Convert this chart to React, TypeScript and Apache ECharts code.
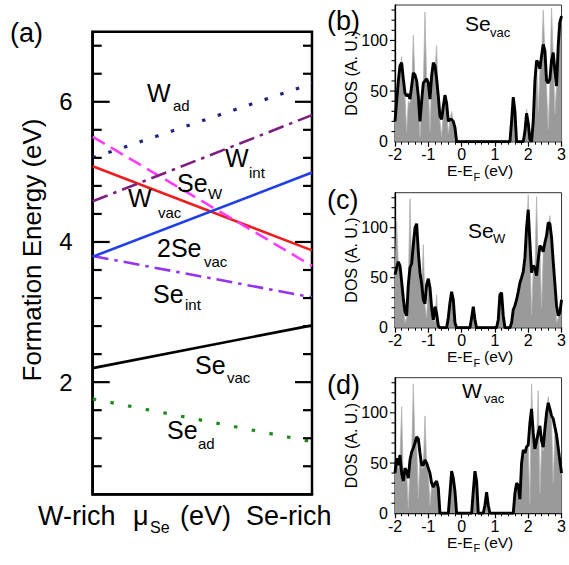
import React, { useEffect, useRef } from 'react';
import * as echarts from 'echarts';

const FONT = 'Liberation Sans, Arial, Helvetica, sans-serif';

// ---------- Panel (a): formation energy vs chemical potential ----------
const MU = [0, 1]; // W-rich -> Se-rich
const W_AD = [5.2, 6.26];
const W_INT = [4.58, 5.81];
const SE_W = [5.5, 3.66];
const W_VAC = [5.08, 3.88];
const SE2_VAC = [3.79, 4.99];
const SE_INT = [3.8, 3.21];
const SE_VAC = [2.2, 2.81];
const SE_AD = [1.76, 1.15];
const MAJOR_TICKS = [2, 4, 6];
const MINOR_TICKS = [0.8, 1.2, 1.6, 2.4, 2.8, 3.2, 3.6, 4.4, 4.8, 5.2, 5.6, 6.4, 6.8];
const DOS_TICKS = [10, 20, 30, 40, 50, 60, 70, 80, 90, 100, 110, 120, 130];
const DOS_LABELS = [0, 50, 100];

// ---------- DOS panels (E - EF from -2 to 3 eV, 0.05 eV grid) ----------
const ENERGY = Array.from({ length: 101 }, (_, i) => +(-2 + i * 0.05).toFixed(2));

const SEVAC_RAW = [
  18, 35, 55, 70, 84, 55, 45, 10, 40, 38,
  50, 105, 60, 55, 40, 5, 35, 55, 128, 60,
  55, 10, 60, 75, 70, 95, 40, 20, 5, 30,
  44, 30, 8, 20, 30, 18, 10, 0, 0, 0,
  0, 0, 0, 0, 0, 0, 0, 0, 0, 0,
  0, 0, 0, 0, 0, 0, 0, 0, 0, 0,
  0, 0, 0, 0, 0, 0, 0, 0, 0, 0,
  15, 40, 25, 0, 0, 0, 0, 0, 8, 32,
  15, 0, 0, 15, 55, 78, 30, 70, 82, 130,
  88, 55, 12, 60, 132, 85, 28, 55, 118, 110,
  120,
];
const SEVAC_SMOOTH = [
  20, 40, 60, 75, 78, 62, 48, 45, 47, 42,
  55, 68, 66, 60, 45, 20, 40, 58, 60, 62,
  58, 42, 65, 78, 75, 62, 45, 25, 22, 35,
  46, 38, 20, 22, 22, 20, 14, 0, 0, 0,
  0, 0, 0, 0, 0, 0, 0, 0, 0, 0,
  0, 0, 0, 0, 0, 0, 0, 0, 0, 0,
  0, 0, 0, 0, 0, 0, 0, 0, 0, 0,
  20, 44, 30, 0, 0, 0, 0, 0, 10, 28,
  18, 2, 0, 20, 60, 80, 78, 72, 85, 96,
  90, 60, 58, 62, 80, 88, 70, 55, 95, 118,
  124,
];
const SEW_RAW = [
  50, 106, 62, 58, 42, 25, 5, 10, 40, 129,
  60, 78, 95, 98, 65, 48, 40, 83, 22, 10,
  45, 35, 15, 10, 5, 33, 0, 0, 0, 0,
  0, 0, 8, 20, 33, 25, 3, 0, 0, 0,
  0, 0, 0, 0, 0, 0, 8, 19, 6, 0,
  0, 0, 0, 0, 0, 0, 0, 0, 0, 0,
  0, 0, 6, 28, 34, 10, 0, 0, 0, 0,
  4, 15, 20, 26, 33, 42, 48, 53, 66, 95,
  133, 80, 13, 58, 57, 131, 62, 78, 20, 76,
  80, 88, 100, 112, 86, 62, 40, 5, 10, 12,
  25,
];
const SEW_SMOOTH = [
  53, 60, 66, 62, 46, 29, 16, 12, 43, 60,
  64, 83, 100, 104, 76, 55, 44, 28, 24, 43,
  49, 40, 20, 8, 21, 14, 2, 0, 0, 0,
  0, 0, 10, 25, 36, 28, 5, 0, 0, 0,
  0, 0, 0, 0, 0, 0, 10, 21, 8, 0,
  0, 0, 0, 0, 0, 0, 0, 0, 0, 0,
  0, 0, 8, 33, 35, 12, 0, 0, 0, 0,
  5, 18, 22, 28, 36, 45, 50, 56, 70, 100,
  118, 85, 55, 62, 60, 52, 68, 82, 80, 76,
  85, 92, 105, 104, 90, 66, 44, 22, 12, 15,
  28,
];
const WVAC_RAW = [
  38, 52, 44, 55, 106, 30, 42, 40, 5, 50,
  58, 129, 66, 72, 15, 58, 45, 45, 97, 47,
  42, 8, 28, 24, 28, 30, 22, 0, 0, 0,
  0, 0, 0, 18, 40, 32, 20, 0, 0, 0,
  0, 0, 0, 0, 0, 0, 0, 20, 40, 30,
  0, 0, 0, 0, 6, 19, 6, 0, 0, 0,
  0, 0, 0, 0, 0, 0, 0, 0, 0, 0,
  0, 0, 18, 28, 26, 12, 48, 60, 58, 62,
  65, 10, 129, 76, 62, 68, 122, 20, 68, 62,
  80, 96, 116, 98, 92, 30, 82, 74, 62, 48,
  38,
];
const WVAC_SMOOTH = [
  40, 55, 48, 58, 40, 32, 45, 42, 35, 53,
  61, 65, 70, 76, 74, 60, 48, 48, 53, 50,
  45, 40, 30, 26, 30, 32, 25, 0, 0, 0,
  0, 0, 0, 20, 42, 35, 22, 0, 0, 0,
  0, 0, 0, 0, 0, 0, 0, 22, 42, 32,
  0, 0, 0, 0, 8, 21, 8, 0, 0, 0,
  0, 0, 0, 0, 0, 0, 0, 0, 0, 0,
  0, 0, 20, 30, 28, 14, 50, 63, 60, 66,
  68, 90, 104, 80, 64, 72, 80, 87, 72, 66,
  84, 100, 110, 104, 97, 94, 86, 78, 65, 52,
  40,
];

const A_WIDTH = 219.3;
const DOS_WIDTH = 170.7;
const DOS_PANELS = [
  { raw: SEVAC_RAW, smooth: SEVAC_SMOOTH, grid: { left: 395, top: 5, width: DOS_WIDTH, height: 136.7 } },
  { raw: SEW_RAW, smooth: SEW_SMOOTH, grid: { left: 395, top: 192.7, width: DOS_WIDTH, height: 135 } },
  { raw: WVAC_RAW, smooth: WVAC_SMOOTH, grid: { left: 395, top: 377.7, width: DOS_WIDTH, height: 135.6 } },
];

function txt(text: string, x: number, y: number, size: number, extra: any = {}) {
  return {
    type: 'text',
    x,
    y,
    rotation: extra.rotation || 0,
    silent: true,
    z: 100,
    style: {
      text,
      fontSize: size,
      fontFamily: FONT,
      fill: '#000',
      align: extra.align || 'left',
      verticalAlign: 'middle',
    },
  };
}

function buildTexts() {
  const M = 25; // main label size
  const S = 15; // subscript size
  const graphic: any[] = [
    txt('(a)', 10, 33, 27),
    txt('(b)', 327, 21, 27),
    txt('(c)', 327, 200, 27),
    txt('(d)', 327, 385, 27),
    txt('Formation Energy (eV)', 32, 250, 26, { rotation: Math.PI / 2, align: 'center' }),
    txt('W-rich', 38, 516, 27),
    txt('\u03bc', 133, 516, 27),
    txt('Se', 150, 527, 16),
    txt('(eV)', 180, 516, 27),
    txt('Se-rich', 246, 516, 27),
    txt('W', 147, 93, M), txt('ad', 173, 105, S),
    txt('W', 225, 158, M), txt('int', 249, 172, S),
    txt('Se', 177, 183, M), txt('W', 208, 193, S),
    txt('W', 128, 198, M), txt('vac', 158, 212, S),
    txt('2Se', 157, 248, M), txt('vac', 204, 261, S),
    txt('Se', 153, 294, M), txt('int', 185, 304, S),
    txt('Se', 195, 365, M), txt('vac', 227, 377, S),
    txt('Se', 167, 430, M), txt('ad', 198, 443, S),
    txt('Se', 465, 23, 21), txt('vac', 490, 32, 13),
    txt('Se', 468, 230, 21), txt('W', 493, 238, 13),
    txt('W', 462, 390, 21), txt('vac', 484, 398, 13),
  ];
  const dosCenters = [73, 260, 445.5];
  const dosBottoms = [141.7, 327.7, 513.3];
  dosCenters.forEach((cy, k) => {
    graphic.push(txt('DOS (A. U.)', 351, cy, 16, { rotation: Math.PI / 2, align: 'center' }));
    const by = dosBottoms[k] + 29;
    graphic.push(txt('E-E', 447, by, 15.5));
    graphic.push(txt('F', 473.5, by + 6, 11));
    graphic.push(txt('(eV)', 484, by, 15.5));
  });
  return graphic;
}

function buildOption() {
  const grids: any[] = [
    { left: 92.7, top: 31.7, width: A_WIDTH, height: 462.6, show: true, borderColor: '#000', borderWidth: 2.5 },
  ];
  DOS_PANELS.forEach((p) => grids.push({ ...p.grid, show: true, borderColor: '#333', borderWidth: 1 }));

  const xAxes: any[] = [
    { gridIndex: 0, type: 'value', min: 0, max: 1, axisLine: { show: true, onZero: false, lineStyle: { color: '#000', width: 2.5 } }, axisTick: { show: false }, axisLabel: { show: false }, splitLine: { show: false } },
  ];
  const yAxes: any[] = [];
  const labelFmt = (v: number) => {
    const r = Math.round(v * 10) / 10;
    return MAJOR_TICKS.includes(r) ? String(r) : '';
  };
  yAxes.push({
    gridIndex: 0, type: 'value', position: 'left', min: 0.4, max: 7, interval: 0.4,
    axisLine: { show: true, onZero: false, lineStyle: { color: '#000', width: 2.5 } },
    axisTick: { show: false },
    axisLabel: { formatter: labelFmt, fontSize: 24, color: '#000', fontFamily: FONT, margin: 20 },
    splitLine: { show: false },
  });

  DOS_PANELS.forEach((_, k) => {
    xAxes.push({
      gridIndex: k + 1, type: 'value', min: -2, max: 3, interval: 1,
      axisLine: { show: true, onZero: false, lineStyle: { color: '#000', width: 1.3 } },
      axisTick: { show: true, inside: false, length: 5, lineStyle: { color: '#000', width: 1.2 } },
      minorTick: { show: true, splitNumber: 5, length: 3, lineStyle: { color: '#000', width: 1 } },
      axisLabel: { fontSize: 16, color: '#000', fontFamily: FONT, margin: 5 },
      splitLine: { show: false }, minorSplitLine: { show: false },
    });
    yAxes.push({
      gridIndex: k + 1, type: 'value', min: 0, max: 135, interval: 10,
      axisLine: { show: true, onZero: false, lineStyle: { color: '#000', width: 1.3 } },
      axisTick: { show: false },
      axisLabel: { formatter: (v: number) => (DOS_LABELS.includes(v) ? String(v) : ''), fontSize: 16, color: '#000', fontFamily: FONT, margin: 7 },
      splitLine: { show: false },
    });
  });

  const lineSeries = (name: string, vals: number[], color: string, type: any, width = 2.6) => ({
    name, type: 'line', xAxisIndex: 0, yAxisIndex: 0, symbol: 'none', silent: true,
    data: MU.map((m, i) => [m, vals[i]]),
    lineStyle: { color, width, type, cap: 'butt' },
    z: 5,
  });

  const series: any[] = [
    lineSeries('Se_ad', SE_AD, '#1c8c1c', [3.5, 14.5], 3.2),
    lineSeries('Se_vac', SE_VAC, '#000000', 'solid'),
    lineSeries('Se_int', SE_INT, '#9433f5', [16, 6, 3.5, 6]),
    lineSeries('W_vac', W_VAC, '#f01c1c', 'solid'),
    lineSeries('2Se_vac', SE2_VAC, '#1f3fe8', 'solid'),
    lineSeries('Se_W', SE_W, '#ff3cff', [14, 7]),
    lineSeries('W_int', W_INT, '#7d1f80', [16, 6, 3.5, 6]),
    lineSeries('W_ad', W_AD, '#23237e', [3.5, 13], 3.2),
  ];

  DOS_PANELS.forEach((p, k) => {
    series.push({
      type: 'line', xAxisIndex: k + 1, yAxisIndex: k + 1, symbol: 'none', silent: true,
      data: ENERGY.map((e, i) => [e, p.raw[i]]),
      lineStyle: { color: '#b4b4b4', width: 0.8 },
      areaStyle: { color: '#9a9a9a', opacity: 1 },
      z: 2,
    });
    series.push({
      type: 'line', xAxisIndex: k + 1, yAxisIndex: k + 1, symbol: 'none', silent: true,
      data: ENERGY.map((e, i) => [e, p.smooth[i]]),
      lineStyle: { color: '#000', width: 2.9 },
      z: 3,
    });
  });

  return {
    animation: false,
    backgroundColor: '#fff',
    grid: grids,
    xAxis: xAxes,
    yAxis: yAxes,
    series,
    graphic: buildTexts(),
  };
}

// tick marks placed through the chart's own axis scales (convertToPixel)
function buildTicks(chart: any) {
  const out: any[] = [];
  const seg = (x1: number, y: number, x2: number, w: number) => ({
    type: 'line', silent: true, z: 90,
    shape: { x1, y1: y, x2, y2: y },
    style: { stroke: '#000', lineWidth: w },
  });
  const finder = { xAxisIndex: 0, yAxisIndex: 0 };
  const addA = (vals: number[], len: number) => {
    vals.forEach((v) => {
      const l = chart.convertToPixel(finder, [0, v]);
      const r = chart.convertToPixel(finder, [1, v]);
      if (l && r && isFinite(l[0]) && isFinite(l[1])) {
        out.push(seg(l[0], l[1], l[0] + len, 2.2));
        out.push(seg(r[0] - len, r[1], r[0], 2.2));
      }
    });
  };
  addA(MINOR_TICKS, 9);
  addA(MAJOR_TICKS, 17);
  DOS_PANELS.forEach((_, k) => {
    const f = { xAxisIndex: k + 1, yAxisIndex: k + 1 };
    DOS_TICKS.forEach((v) => {
      const pt = chart.convertToPixel(f, [-2, v]);
      if (pt && isFinite(pt[0]) && isFinite(pt[1])) {
        const len = v % 50 === 0 ? 5 : 3.5;
        out.push(seg(pt[0] - len, pt[1], pt[0], 1.1));
      }
    });
  });
  return out;
}

export default function App() {
  const ref = useRef<HTMLDivElement>(null);
  useEffect(() => {
    if (!ref.current) return;
    const chart = echarts.init(ref.current, null, { renderer: 'svg' });
    chart.setOption(buildOption() as any);
    try {
      const ticks = buildTicks(chart);
      chart.setOption({ graphic: [...buildTexts(), ...ticks] } as any);
    } catch (e) {
      // keep the base chart if tick placement fails
    }
    return () => chart.dispose();
  }, []);
  return (
    <div
      ref={ref}
      style={{ position: 'absolute', left: 0, top: 0, width: 569, height: 565, background: '#fff' }}
    />
  );
}
